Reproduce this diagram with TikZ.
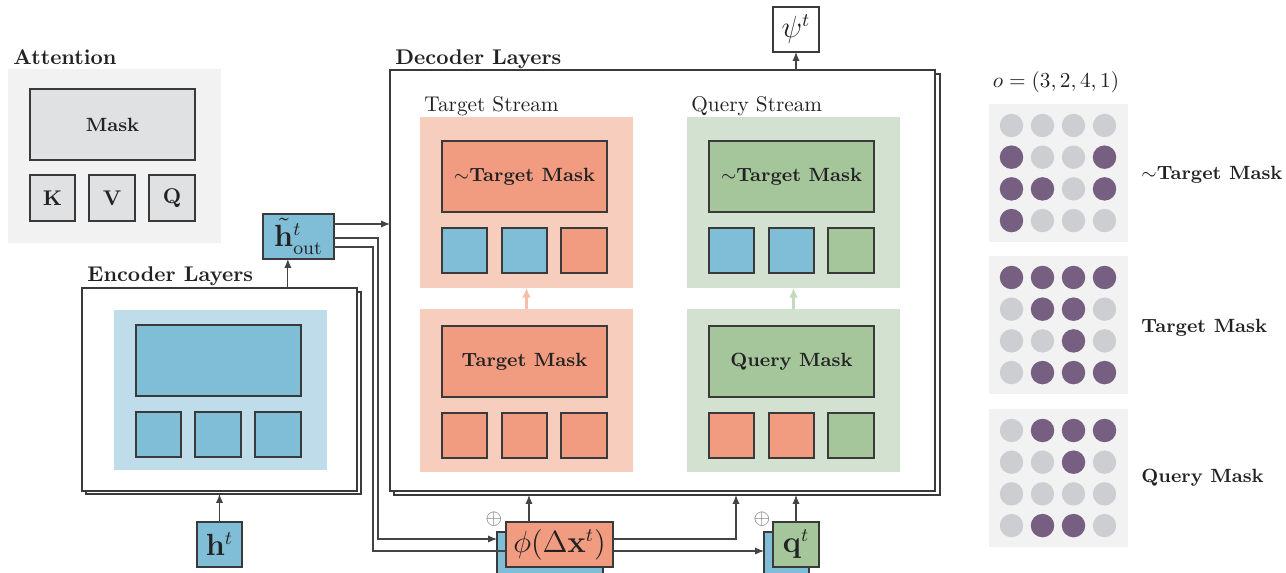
\documentclass[tikz,border=0pt]{standalone}
\usetikzlibrary{fit,arrows.meta,calc}
\definecolor{cblue}{HTML}{80BDD6}
\definecolor{lblue}{HTML}{BFDCEA}
\definecolor{csal}{HTML}{F19C80}
\definecolor{lsal}{HTML}{F7CDBE}
\definecolor{asal}{HTML}{F5BFAA}
\definecolor{cgrn}{HTML}{A5C59B}
\definecolor{lgrn}{HTML}{D3E2D0}
\definecolor{agrn}{HTML}{C4DABE}
\definecolor{pgray}{HTML}{F2F2F2}
\definecolor{bgray}{HTML}{E0E1E3}
\definecolor{dotg}{HTML}{CDCED1}
\definecolor{purp}{HTML}{765F80}
\definecolor{edgec}{HTML}{3A3A3A}
\definecolor{txt}{HTML}{222222}
\definecolor{wirec}{HTML}{444444}
\newcommand\maskgrid[2]{%
  \foreach \c in {0,...,3}{\foreach \r in {0,...,3}{%
    \fill[dotg] (1011.5+31*\c, #1+21.5+31.7*\r) circle[radius=5.5pt];}}
  \foreach \c/\r in {#2}{%
    \fill[purp] (1011.5+31*\c, #1+21.5+31.7*\r) circle[radius=5.5pt];}%
}
\begin{document}
\begin{tikzpicture}[x=0.47pt,y=-0.47pt,
  every node/.style={text=txt},
  zone/.style={draw=none,inner sep=0pt,outer sep=0pt},
  cellbox/.style={draw=edgec,line width=0.6pt,inner sep=0pt,outer sep=0pt},
  layerbox/.style={draw=edgec,fill=white,line width=0.6pt,inner sep=0pt,outer sep=0pt},
  wirearrow/.style={draw=wirec,line width=0.5pt,-{Latex[length=4.2pt,width=3.4pt]}},
  flowarrow/.style={line width=1.1pt,-{Latex[length=4.5pt,width=4.2pt]}},
  ttl/.style={font=\bfseries,anchor=base west,inner sep=0pt},
  mlab/.style={font=\small\bfseries,inner sep=0pt},
  mbox/.style={font=\fontsize{13.5}{16}\selectfont,inner sep=0pt},
  slab/.style={anchor=base west,inner sep=0pt}
]
\useasboundingbox (0,0) rectangle (1286,573);

% ---------------- Attention legend
\node[ttl] (atttitle) at (13,65) {Attention};
\node[zone,fill=pgray,fit={(8,69)(221,243)}] (attpanel) {};
\node[cellbox,fill=bgray,fit={(30,89)(195,160)}] (attmask) {};
\node[mlab] (attmaskL) at (attmask.center) {Mask};
\node[cellbox,fill=bgray,fit={(30,175)(75,221)}] (attk) {};
\node[cellbox,fill=bgray,fit={(89,175)(135,221)}] (attv) {};
\node[cellbox,fill=bgray,fit={(149,175)(195,221)}] (attq) {};
\node[font=\bfseries,inner sep=0pt] (attkL) at (attk.center) {K};
\node[font=\bfseries,inner sep=0pt] (attvL) at (attv.center) {V};
\node[font=\bfseries,inner sep=0pt] (attqL) at (attq.center) {Q};

% ---------------- boxes that wires run behind
\node[cellbox,fill=cblue,fit={(263,214)(334,259)}] (hout) {};
\node[mbox] (houtL) at (hout.center) {$\tilde{\mathbf{h}}^t_{\mathrm{out}}$};
\node[layerbox,fit={(394,74)(940,495)}] (decback) {};
\node[layerbox,fit={(390,70)(935,491)}] (dec) {};
\node[cellbox,fill=cblue,fit={(497,532)(603,600)}] (phib) {};
\node[cellbox,fill=cblue,fit={(764,532)(809,600)}] (qb) {};

\coordinate (w1) at ($(hout.north east)+(0,10)$);
\coordinate (w2) at ($(hout.north east)+(0,24)$);
\coordinate (w3) at ($(hout.north east)+(0,33)$);
\coordinate (c2) at (378,539);
\coordinate (c3) at (373,551);
\coordinate (c4) at (736,539);
\draw[wirearrow] (w1) -- (w1 -| dec.west);
\draw[wirearrow] (w2) -| (c2) -- (c2 -| phib.west);
\draw[wirearrow] (w3) -| (c3) -- (c3 -| qb.west);

\node[cellbox,fill=csal,fit={(506,522)(613,567)}] (phi) {};
\node[mbox] (phiL) at (phi.center) {$\phi(\Delta\mathbf{x}^t)$};
\node[cellbox,fill=cgrn,fit={(773,522)(819,567)}] (q) {};
\node[mbox] (qL) at (q.center) {$\mathbf{q}^t$};
\node[text=wirec!80] (op1) at (494,519) {$\oplus$};
\node[text=wirec!80] (op2) at (762,519) {$\oplus$};

\coordinate (p1) at ($(phi.north west)+(23,0)$);
\draw[wirearrow] (p1) -- (p1 |- decback.south);
\draw[wirearrow] (c4 -| phi.east) -| (c4 |- decback.south);
\draw[wirearrow] (q.north) -- (q.north |- decback.south);

% ---------------- Encoder
\node[ttl] (enctitle) at (87,282) {Encoder Layers};
\node[layerbox,fit={(86,292)(361,494)}] (encback) {};
\node[layerbox,fit={(82,288)(357,491)}] (enc) {};
\node[zone,fill=lblue,fit={(114,310)(327,470)}] (encpanel) {};
\node[cellbox,fill=cblue,fit={(136,325)(301,396)}] (encmask) {};
\node[cellbox,fill=cblue,fit={(136,412)(181,457)}] (enck) {};
\node[cellbox,fill=cblue,fit={(195,412)(241,457)}] (encv) {};
\node[cellbox,fill=cblue,fit={(255,412)(301,457)}] (encq) {};
\node[cellbox,fill=cblue,fit={(197,522)(242,567)}] (h) {};
\node[mbox] (hL) at (h.center) {$\mathbf{h}^t$};
\draw[wirearrow] (h.north) -- (h.north |- encback.south);
\coordinate (hx) at ($(hout.south west)!0.35!(hout.south east)$);
\draw[wirearrow] (hx |- enc.north) -- (hx);

% ---------------- Decoder
\node[ttl] (dectitle) at (395,65) {Decoder Layers};
\node[cellbox,fit={(773,7)(819,52)}] (psi) {};
\node[mbox] (psiL) at (psi.center) {$\psi^t$};
\draw[wirearrow] (psi.south |- dec.north) -- (psi.south);

\node[slab] (tslab) at (424,112) {Target Stream};
\node[slab] (qslab) at (691,112) {Query Stream};

% target stream
\node[zone,fill=lsal,fit={(420,117)(633,288)}] (tup) {};
\node[zone,fill=lsal,fit={(420,309)(633,472)}] (tlow) {};
\node[cellbox,fill=csal,fit={(442,141)(607,212)}] (tupmask) {};
\node[mlab] (tupmaskL) at (tupmask.center) {$\sim$Target Mask};
\node[cellbox,fill=cblue,fit={(442,228)(487,273)}] (tu1) {};
\node[cellbox,fill=cblue,fit={(502,228)(547,273)}] (tu2) {};
\node[cellbox,fill=csal,fit={(561,228)(607,273)}] (tu3) {};
\node[cellbox,fill=csal,fit={(442,326)(607,397)}] (tlowmask) {};
\node[mlab] (tlowmaskL) at (tlowmask.center) {Target Mask};
\node[cellbox,fill=csal,fit={(442,413)(487,458)}] (tl1) {};
\node[cellbox,fill=csal,fit={(502,413)(547,458)}] (tl2) {};
\node[cellbox,fill=csal,fit={(561,413)(607,458)}] (tl3) {};
\draw[flowarrow,draw=asal] (tlow.north) -- (tup.south);

% query stream
\node[zone,fill=lgrn,fit={(687,117)(900,288)}] (qup) {};
\node[zone,fill=lgrn,fit={(687,309)(900,472)}] (qlow) {};
\node[cellbox,fill=cgrn,fit={(709,141)(874,212)}] (qupmask) {};
\node[mlab] (qupmaskL) at (qupmask.center) {$\sim$Target Mask};
\node[cellbox,fill=cblue,fit={(709,228)(754,273)}] (qu1) {};
\node[cellbox,fill=cblue,fit={(769,228)(814,273)}] (qu2) {};
\node[cellbox,fill=cgrn,fit={(828,228)(874,273)}] (qu3) {};
\node[cellbox,fill=cgrn,fit={(709,326)(874,397)}] (qlowmask) {};
\node[mlab] (qlowmaskL) at (qlowmask.center) {Query Mask};
\node[cellbox,fill=csal,fit={(709,413)(754,458)}] (ql1) {};
\node[cellbox,fill=csal,fit={(769,413)(814,458)}] (ql2) {};
\node[cellbox,fill=cgrn,fit={(828,413)(874,458)}] (ql3) {};
\draw[flowarrow,draw=agrn] (qlow.north) -- (qup.south);

% ---------------- Mask examples
\node (olab) at (1056,82) {$o=(3,2,4,1)$};
\node[zone,fill=pgray,fit={(989,104)(1128,242)}] (g1) {};
\node[zone,fill=pgray,fit={(989,256)(1128,394)}] (g2) {};
\node[zone,fill=pgray,fit={(989,409)(1128,547)}] (g3) {};
\maskgrid{104}{0/1,3/1,0/2,1/2,3/2,0/3}
\maskgrid{256}{0/0,1/0,2/0,3/0,1/1,2/1,2/2,1/3,2/3,3/3}
\maskgrid{409}{1/0,2/0,3/0,2/1,1/3,2/3}
\node[mlab,anchor=west] (l1) at (1141,175) {$\sim$Target Mask};
\node[mlab,anchor=west] (l2) at (1141,328) {Target Mask};
\node[mlab,anchor=west] (l3) at (1141,478) {Query Mask};
\end{tikzpicture}
\end{document}
